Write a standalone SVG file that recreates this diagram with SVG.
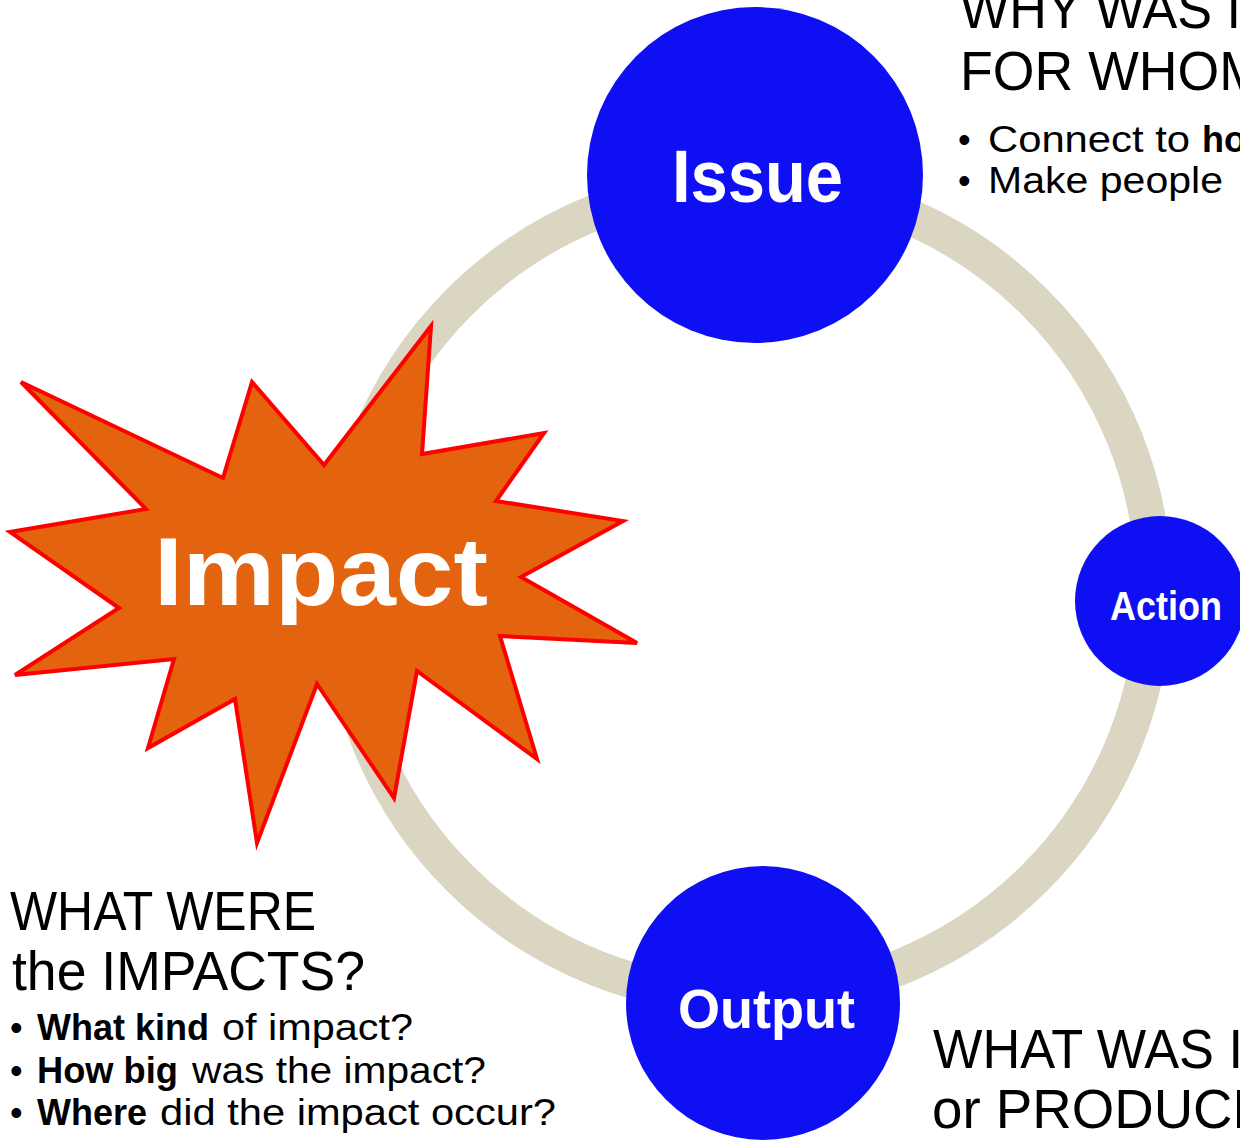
<svg xmlns="http://www.w3.org/2000/svg" width="1240" height="1142" viewBox="0 0 1240 1142">
  <style>
    .node { fill: #0F0FF4; }
    .lbl { font-family: "Liberation Sans", Arial, sans-serif; font-weight: bold; fill: #FFFFFF; }
    .head { font-family: "Liberation Sans", Arial, sans-serif; font-size: 56px; fill: #000000; }
    .bul { font-family: "Liberation Sans", Arial, sans-serif; font-size: 36px; fill: #000000; }
    .b { font-weight: bold; }
  </style>
  <rect x="0" y="0" width="1240" height="1142" fill="#FFFFFF"/>

  <g id="connectors">
    <circle cx="747" cy="590" r="407" fill="none" stroke="#DAD6C1" stroke-width="36"/>
  </g>

  <g id="node-issue">
    <circle class="node" cx="755" cy="175" r="168"/>
    <text class="lbl" x="672" y="202" font-size="75" textLength="171" lengthAdjust="spacingAndGlyphs">Issue</text>
  </g>

  <g id="node-action">
    <circle class="node" cx="1160" cy="601" r="85"/>
    <text class="lbl" x="1110" y="620" font-size="40" textLength="112" lengthAdjust="spacingAndGlyphs">Action</text>
  </g>

  <g id="node-output">
    <circle class="node" cx="763" cy="1003" r="137"/>
    <text class="lbl" x="678" y="1028" font-size="56" textLength="177" lengthAdjust="spacingAndGlyphs">Output</text>
  </g>

  <g id="node-impact">
    <polygon points="431,326 422,454 544,433 496,501 623,521 521,577 637,643 500,636 537,759 417,671 394,798 317,684 257,843 235,699 148,748 174,659 15,675 119,608 10,532 146,509 21,382 223,478 252,382 324,465" fill="#E4630E" stroke="#FF0000" stroke-width="4" stroke-linejoin="miter"/>
    <text class="lbl" x="154" y="605" font-size="97" textLength="334" lengthAdjust="spacingAndGlyphs">Impact</text>
  </g>

  <g id="text-issue">
    <text class="head" x="960" y="28" textLength="281" lengthAdjust="spacingAndGlyphs">WHY WAS I</text>
    <text class="head" x="960" y="90" textLength="304" lengthAdjust="spacingAndGlyphs">FOR WHOM</text>
    <text class="bul" x="958" y="152">•</text>
    <text class="bul" x="988" y="152" font-size="37" textLength="202" lengthAdjust="spacingAndGlyphs">Connect to</text>
    <text class="bul b" x="1202" y="152" font-size="37">ho</text>
    <text class="bul" x="958" y="193">•</text>
    <text class="bul" x="988" y="193" font-size="37" textLength="235" lengthAdjust="spacingAndGlyphs">Make people</text>
  </g>

  <g id="text-impact">
    <text class="head" x="10" y="930" textLength="306" lengthAdjust="spacingAndGlyphs">WHAT WERE</text>
    <text class="head" x="12" y="990" textLength="353" lengthAdjust="spacingAndGlyphs">the IMPACTS?</text>
    <text class="bul" x="10" y="1040">•</text>
    <text class="bul b" x="37" y="1040" textLength="172" lengthAdjust="spacingAndGlyphs">What kind</text>
    <text class="bul" x="222" y="1040" textLength="191" lengthAdjust="spacingAndGlyphs">of impact?</text>
    <text class="bul" x="10" y="1083">•</text>
    <text class="bul b" x="37" y="1083" textLength="141" lengthAdjust="spacingAndGlyphs">How big</text>
    <text class="bul" x="192" y="1083" textLength="294" lengthAdjust="spacingAndGlyphs">was the impact?</text>
    <text class="bul" x="10" y="1125">•</text>
    <text class="bul b" x="37" y="1125" textLength="110" lengthAdjust="spacingAndGlyphs">Where</text>
    <text class="bul" x="160" y="1125" textLength="396" lengthAdjust="spacingAndGlyphs">did the impact occur?</text>
  </g>

  <g id="text-output">
    <text class="head" x="933" y="1068" textLength="310" lengthAdjust="spacingAndGlyphs">WHAT WAS I</text>
    <text class="head" x="932" y="1128" textLength="337" lengthAdjust="spacingAndGlyphs">or PRODUCE</text>
  </g>
</svg>
